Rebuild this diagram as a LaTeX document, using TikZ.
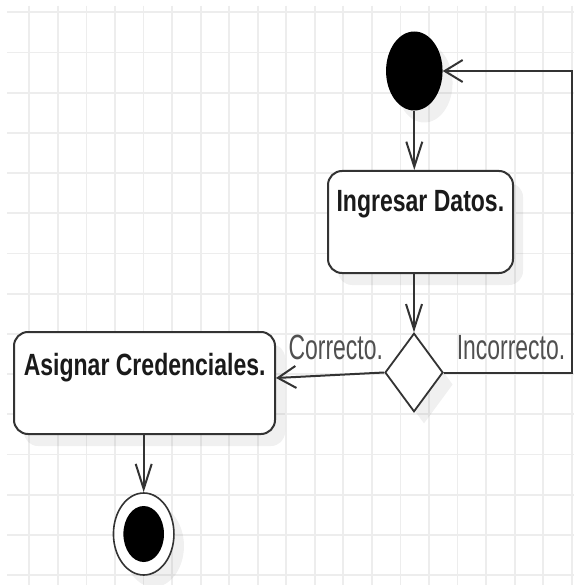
\documentclass[tikz,border=0pt]{standalone}
\usepackage{fontspec}
\setmainfont{Liberation Sans}
\usepackage{graphicx}
\usetikzlibrary{shapes.geometric,arrows.meta,shadows}
\definecolor{gridc}{HTML}{EDEDED}
\definecolor{linec}{HTML}{333333}
\definecolor{labelc}{HTML}{505050}
\definecolor{textc}{HTML}{1A1A1A}
\tikzset{
  gridline/.style={gridc, line width=1.8pt},
  sh/.style={drop shadow={shadow xshift=10pt, shadow yshift=-12pt, fill=black, opacity=0.06}},
  actbox/.style={draw=linec, line width=2pt, rounded corners=14pt, fill=white, inner sep=0pt, sh},
  decbox/.style={diamond, draw=linec, line width=1.8pt, fill=white, inner sep=0pt, sh},
  startdot/.style={ellipse, fill=black, inner sep=0pt, sh},
  endring/.style={ellipse, draw=linec, line width=1.6pt, fill=white, inner sep=0pt, sh},
  enddot/.style={ellipse, fill=black, inner sep=0pt},
  boldtext/.style={font=\fontsize{30.7}{34}\selectfont\bfseries, text=textc, inner sep=0pt, anchor=base},
  guardtext/.style={font=\fontsize{35}{38}\selectfont, text=labelc, inner sep=0pt, anchor=base},
  flow/.style={draw=linec, line width=2pt},
  vtip/.style={-{Straight Barb[length=25pt,width=16pt]}},
  htip/.style={-{Straight Barb[length=18pt,width=22pt]}}
}
\begin{document}
\begin{tikzpicture}[x=1pt,y=-1pt]
\useasboundingbox (0,0) rectangle (574,585);
\fill[white] (0,0) rectangle (574,585);
% grid
\foreach \k in {0,...,19} \draw[gridline] ({29.3+28.55*\k},6) -- ({29.3+28.55*\k},585);
\foreach \k in {0,...,14} \draw[gridline] (7,{12.3+40.2*\k}) -- (574,{12.3+40.2*\k});
% nodes
\node[startdot, minimum width=56.5pt, minimum height=79pt] (start) at (414.3,71) {};
\node[actbox, minimum width=185pt, minimum height=102pt] (ingresar) at (420.5,222) {};
\node[boldtext] (ingresarText) at (420.4,211.7) {\scalebox{0.75}[1]{Ingresar Datos.}};
\node[decbox, minimum width=58pt, minimum height=78.5pt] (decision) at (414,372.5) {};
\node[actbox, minimum width=261pt, minimum height=102pt] (asignar) at (144.5,383) {};
\node[boldtext] (asignarText) at (144.7,375) {\scalebox{0.75}[1]{Asignar Credenciales.}};
\node[endring, minimum width=60.5pt, minimum height=82pt] (final) at (143.7,534) {};
\node[enddot, minimum width=40.6pt, minimum height=56pt] (finalDot) at (143.7,534) {};
\node[guardtext] (correcto) at (335.8,359) {\scalebox{0.655}[1]{Correcto.}};
\node[guardtext] (incorrecto) at (511,359) {\scalebox{0.655}[1]{Incorrecto.}};
\coordinate (loop) at (572,0);
% connectors
\draw[flow, vtip] (start.south) -- (start.south |- ingresar.north);
\draw[flow, vtip] (decision.north |- ingresar.south) -- (decision.north);
\draw[flow, htip] (decision.west) -- ([yshift=5pt]asignar.east);
\draw[flow, htip] (decision.east) -- (decision.east -| loop) |- (start.east);
\draw[flow, vtip] (final.north |- asignar.south) -- (final.north);
\end{tikzpicture}
\end{document}
